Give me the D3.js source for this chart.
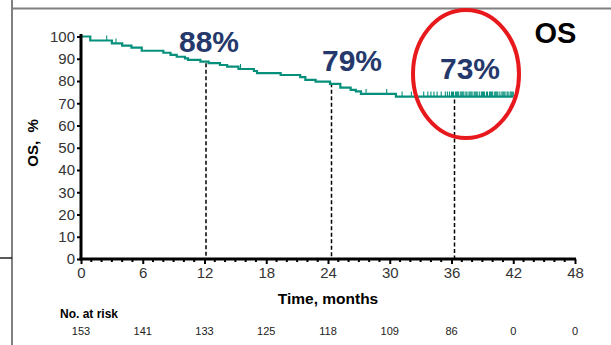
<!DOCTYPE html>
<html><head><meta charset="utf-8">
<script src="https://cdn.jsdelivr.net/npm/d3@7"></script>
<style>
html,body{margin:0;padding:0;background:#fff;}
svg{display:block;font-family:"Liberation Sans",Arial,sans-serif;}
</style></head>
<body><svg id="c" width="611" height="345"></svg>
<script>
// Kaplan-Meier step points (months, OS %)
const kmTimes  = [0, 0.9, 3.0, 4.0, 4.9, 5.9, 8.0, 8.7, 9.3, 10.1, 10.4, 11.6, 12.4, 13.5, 14.2, 15.3, 16.8, 17.1, 19.4, 21.3, 21.8, 22.8, 24.2, 25.2, 26.2, 26.7, 27.2, 30.6, 42.0];
const kmValues = [100, 98.2, 96.9, 95.9, 95.0, 93.6, 92.7, 91.7, 90.9, 90.2, 89.5, 88.7, 88.0, 87.2, 86.5, 85.4, 84.5, 83.5, 82.7, 81.7, 80.5, 79.7, 78.7, 77.0, 76.0, 75.3, 74.2, 73.0, 73.0];
// censoring marks (months)
const censorTimes = [2.5, 3.4, 15.5, 27.7, 29.7, 31.2, 32.1, 33.3, 33.7, 34.0, 34.3, 34.6, 35.0, 35.4, 35.6, 35.8,
  36.0, 36.1, 36.2, 36.4, 36.5, 36.6, 36.7, 36.9, 37.0, 37.1, 37.2, 37.4, 37.5, 37.7, 37.8, 37.9, 38.0, 38.2, 38.3, 38.4, 38.5, 38.7, 38.9,
  39.0, 39.1, 39.2, 39.4, 39.5, 39.7, 39.8, 39.9, 40.0, 40.2, 40.3, 40.4, 40.5, 40.7, 40.9, 41.0, 41.1, 41.2, 41.4, 41.5, 41.7, 41.8, 41.9, 42.0];
// milestones
const milestoneTimes  = [12, 24, 36];
const milestoneValues = [88, 79, 73];
const milestoneLabels = ["88%", "79%", "73%"];
// axes
const xTicks = [0, 6, 12, 18, 24, 30, 36, 42, 48];
const yTicks = [0, 10, 20, 30, 40, 50, 60, 70, 80, 90, 100];
const atRisk = [153, 141, 133, 125, 118, 109, 86, 0, 0];

const svg = d3.select("#c");
const x = d3.scaleLinear().domain([0, 48]).range([81, 575]);
const y = d3.scaleLinear().domain([0, 100]).range([259, 36.5]);
const teal = "#06907c";

// frame lines
svg.append("line").attr("x1",12).attr("x2",12).attr("y1",0).attr("y2",345).attr("stroke","#808080").attr("stroke-width",2);
svg.append("line").attr("x1",12).attr("x2",611).attr("y1",8.5).attr("y2",8.5).attr("stroke","#808080").attr("stroke-width",2);
svg.append("line").attr("x1",0).attr("x2",12).attr("y1",258).attr("y2",258).attr("stroke","#000").attr("stroke-width",1.3);

// dashed milestone lines (drawn slightly right of the tick, as in the source)
const dashNudge = [1.5, 3.5, 3];
milestoneTimes.forEach((t,i)=>{
  const xx = x(t) + dashNudge[i];
  svg.append("line").attr("x1",xx).attr("x2",xx).attr("y1",y(milestoneValues[i]) + (i===2?3:0)).attr("y2",y(0))
    .attr("stroke","#000").attr("stroke-width",1.5).attr("stroke-dasharray","4,2.5");
});

// KM curve
const pts = kmTimes.map((t,i)=>[t,kmValues[i]]);
svg.append("path").datum(pts)
  .attr("d", d3.line().x(d=>x(d[0])).y(d=>y(d[1])).curve(d3.curveStepAfter))
  .attr("fill","none").attr("stroke",teal).attr("stroke-width",2.2);

// survival lookup
function surv(t){ let v=kmValues[0]; for(let i=0;i<kmTimes.length;i++){ if(kmTimes[i]<=t) v=kmValues[i]; } return v; }
svg.append("g").selectAll("line").data(censorTimes).join("line")
  .attr("x1",d=>x(d)).attr("x2",d=>x(d)).attr("y1",d=>y(surv(d))).attr("y2",d=>y(surv(d))-5)
  .attr("stroke",teal).attr("stroke-width",1.1);

// Y axis
const yAxis = d3.axisLeft(y).tickValues(yTicks).tickSize(4).tickPadding(2);
const gy = svg.append("g").attr("transform","translate(81,0)").call(yAxis);
gy.select(".domain").attr("stroke","#000").attr("stroke-width",3).attr("d","M0,34V260");
gy.selectAll(".tick line").attr("stroke","#000").attr("stroke-width",2);
gy.selectAll(".tick text").attr("font-size",15).attr("fill","#333").attr("font-family","Liberation Sans, Arial, sans-serif");

// X axis
const xAxis = d3.axisBottom(x).tickValues(xTicks).tickSize(5).tickPadding(3);
const gx = svg.append("g").attr("transform","translate(0,259)").call(xAxis);
gx.select(".domain").attr("stroke","#000").attr("stroke-width",3).attr("d","M79.5,0H576");
gx.selectAll(".tick line").attr("stroke","#000").attr("stroke-width",2);
gx.selectAll(".tick text").attr("font-size",15).attr("fill","#333").attr("font-family","Liberation Sans, Arial, sans-serif");
const minor = d3.range(0,49).filter(m=>m%6!==0);
gx.append("g").selectAll("line").data(minor).join("line")
  .attr("x1",d=>x(d)).attr("x2",d=>x(d)).attr("y1",0).attr("y2",3)
  .attr("stroke","#000").attr("stroke-width",2);

// axis titles
svg.append("text").attr("x",328).attr("y",304).attr("text-anchor","middle")
  .attr("font-size",15.5).attr("font-weight","bold").attr("fill","#000").text("Time, months");
svg.append("text").attr("transform","translate(38,143) rotate(-90)").attr("text-anchor","middle")
  .attr("font-size",15).attr("font-weight","bold").attr("fill","#000").style("white-space","pre").text("OS,  %");

// milestone labels
const labelPos = [[209,52],[352,70.5],[470,79]];
milestoneLabels.forEach((l,i)=>{
  svg.append("text").attr("x",labelPos[i][0]).attr("y",labelPos[i][1]).attr("text-anchor","middle")
    .attr("font-size",30).attr("font-weight","bold").attr("fill","#25386b").text(l);
});
svg.append("text").attr("x",555.5).attr("y",42.5).attr("text-anchor","middle")
  .attr("font-size",29).attr("font-weight","bold").attr("fill","#000").text("OS");

// red ellipse
svg.append("ellipse").attr("cx",466).attr("cy",74).attr("rx",53).attr("ry",64)
  .attr("fill","none").attr("stroke","#e8191d").attr("stroke-width",4);

// at-risk table
svg.append("text").attr("x",60).attr("y",318).attr("font-size",12).attr("font-weight","bold").attr("fill","#000").text("No. at risk");
svg.append("g").selectAll("text").data(atRisk).join("text")
  .attr("x",(d,i)=>x(xTicks[i])).attr("y",335).attr("text-anchor","middle")
  .attr("font-size",11).attr("fill","#222").text(d=>d);
</script></body></html>
